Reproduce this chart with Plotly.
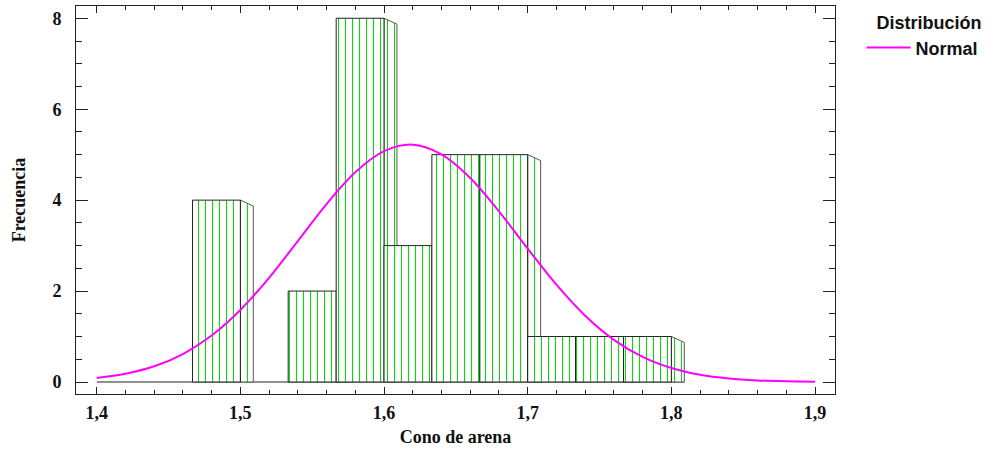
import plotly.graph_objects as go

# ---- data ----
bin_edges = [1.4667, 1.5, 1.5333, 1.5667, 1.6, 1.6333, 1.6667, 1.7, 1.7333, 1.7667, 1.8]
counts = [4, 0, 2, 8, 3, 5, 5, 1, 1, 1]

curve_x = [1.40, 1.42, 1.44, 1.46, 1.48, 1.50, 1.52, 1.54, 1.56, 1.58, 1.60, 1.62, 1.64,
           1.66, 1.68, 1.70, 1.72, 1.74, 1.76, 1.78, 1.80, 1.82, 1.84, 1.86, 1.88, 1.90]
curve_y = [0.089, 0.182, 0.346, 0.615, 1.022, 1.584, 2.292, 3.100, 3.913, 4.612, 5.077, 5.22, 5.008,
           4.488, 3.755, 2.934, 2.141, 1.458, 0.928, 0.551, 0.306, 0.158, 0.077, 0.035, 0.015, 0.006]

x_tick_vals = [1.4, 1.5, 1.6, 1.7, 1.8, 1.9]
y_tick_vals = [0, 2, 4, 6, 8]

x_title = "Cono de arena"
y_title = "Frecuencia"
legend_title = "Distribución"
curve_name = "Normal"

# ---- styling ----
depth_dx = 0.009
depth_dy = 0.13
green = "#00e000"
hatch = dict(shape="|", fgcolor=green, bgcolor="white", size=7, solidity=0.143, fillmode="replace")

fig = go.Figure()

# baseline of the histogram
fig.add_trace(go.Scatter(x=[curve_x[0], bin_edges[-1] + depth_dx], y=[0, 0], mode="lines",
                         line=dict(color="#222222", width=1), showlegend=False, hoverinfo="skip"))

for i, c in enumerate(counts):
    if c <= 0:
        continue
    x0, x1 = bin_edges[i], bin_edges[i + 1]
    # side (depth) face
    fig.add_trace(go.Scatter(
        x=[x1, x1 + depth_dx, x1 + depth_dx, x1, x1],
        y=[c, c - depth_dy, 0, 0, c],
        mode="lines", fill="toself", fillcolor="white", fillpattern=hatch,
        line=dict(color="#555555", width=1), showlegend=False, hoverinfo="skip"))
    # front face
    fig.add_trace(go.Scatter(
        x=[x0, x0, x1, x1, x0],
        y=[0, c, c, 0, 0],
        mode="lines", fill="toself", fillcolor="white", fillpattern=hatch,
        line=dict(color="#222222", width=1), showlegend=False, hoverinfo="skip"))

fig.add_trace(go.Scatter(x=curve_x, y=curve_y, mode="lines", name="<b>" + curve_name + "</b>",
                         line=dict(color="#ff00ff", width=2, shape="spline")))

axis_common = dict(
    showline=True, linecolor="#222222", linewidth=1, mirror="allticks",
    ticks="inside", tickcolor="#222222", showgrid=False, zeroline=False,
    tickfont=dict(family="Liberation Serif", size=18, color="#111111", weight="bold"),
)

fig.update_xaxes(
    range=[1.3856, 1.9139], tickvals=x_tick_vals, tickformat=".1f", ticklen=7,
    minor=dict(dtick=0.02, tick0=1.4, ticks="inside", ticklen=4, tickcolor="#222222"),
    title=dict(text="<b>" + x_title + "</b>", standoff=8,
               font=dict(family="Liberation Serif", size=18, color="#111111")),
    ticklabelstandoff=2,
    **axis_common)
fig.update_yaxes(
    range=[-0.264, 8.27], tickvals=y_tick_vals, ticklen=12,
    minor=dict(dtick=0.5, tick0=0, ticks="inside", ticklen=6, tickcolor="#222222"),
    title=dict(text="<b>" + y_title + "</b>", standoff=22,
               font=dict(family="Liberation Serif", size=18, color="#111111")),
    ticklabelstandoff=10,
    **axis_common)

fig.update_layout(
    width=1002, height=452,
    margin=dict(l=76, r=167, t=6, b=58, autoexpand=False),
    paper_bgcolor="white", plot_bgcolor="white",
    separators=", ",
    showlegend=True,
    legend=dict(
        x=1.035, y=1.0, xanchor="left", yanchor="top",
        title=dict(text="<b>" + legend_title + "</b>", side="top right",
                   font=dict(family="Liberation Sans", size=18, color="#111111")),
        font=dict(family="Liberation Sans", size=18, color="#111111"),
        bgcolor="rgba(0,0,0,0)", itemwidth=44, tracegroupgap=0,
    ),
)

fig.write_html("out.html", config={"displayModeBar": False},
               post_script="document.body.style.margin='0';")
